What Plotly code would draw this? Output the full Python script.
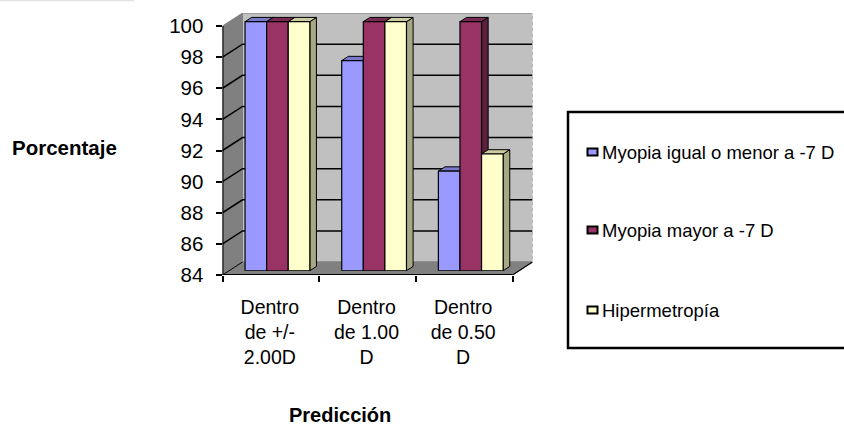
import plotly.graph_objects as go

categories = ["Dentro<br>de +/-<br>2.00D", "Dentro<br>de 1.00<br>D", "Dentro<br>de 0.50<br>D"]
series_names = ["Myopia igual o menor a -7 D", "Myopia mayor a -7 D", "Hipermetropía"]
myopia_low = [100, 97.5, 90.4]
myopia_high = [100, 100, 100]
hyperopia = [100, 100, 91.5]
series_values = [myopia_low, myopia_high, hyperopia]
front_colors = ["#9999FF", "#993366", "#FFFFCC"]
side_colors = ["#5C5C99", "#5C1F3D", "#A8A884"]
top_colors = ["#7A7ACC", "#7A2952", "#CCCCA3"]
y_ticks = list(range(84, 101, 2))

W, H = 844, 428
AX_L, AX_R, AX_B, AX_T = 222.5, 512.5, 275.0, 26.0     # front plane of the axes, pixels
DEPTH_X, DEPTH_Y = 20.0, 13.0                          # full box depth, pixels
PX_PER_CAT = (AX_R - AX_L) / 3
PX_PER_UNIT = (AX_B - AX_T) / 16
X_MAX = 3 + DEPTH_X / PX_PER_CAT
Y_MAX = 100 + DEPTH_Y / PX_PER_UNIT
BOX_R, BOX_T = AX_R + DEPTH_X, AX_T - DEPTH_Y

GAP = 0.33
BAR_W = (1 - GAP) / 3
BAR_D0, BAR_D1 = 0.33, 0.66                            # bar depth span within the box


def dx(d):
    return d * DEPTH_X / PX_PER_CAT


def dy(d):
    return d * DEPTH_Y / PX_PER_UNIT


fig = go.Figure()


def poly(xs, ys, fill, line="#000000", width=1):
    fig.add_trace(go.Scatter(x=xs + xs[:1], y=ys + ys[:1], mode="lines", fill="toself",
                             fillcolor=fill, line=dict(color=line, width=width),
                             hoverinfo="skip", showlegend=False))


def seg(xs, ys, color="#000000", width=2, dash="solid"):
    fig.add_trace(go.Scatter(x=xs, y=ys, mode="lines",
                             line=dict(color=color, width=width, dash=dash),
                             hoverinfo="skip", showlegend=False))


# box walls
poly([dx(1), 3 + dx(1), 3 + dx(1), dx(1)], [84 + dy(1), 84 + dy(1), 100 + dy(1), 100 + dy(1)],
     "#C0C0C0", "#808080", 1)
poly([0, dx(1), dx(1), 0], [84, 84 + dy(1), 100 + dy(1), 100], "#808080", "#808080", 1)
poly([0, 3, 3 + dx(1), dx(1)], [84, 84, 84 + dy(1), 84 + dy(1)], "#808080", "#808080", 1)
seg([3 + dx(1), 3 + dx(1)], [84 + dy(1), 100 + dy(1)], "#FFFFFF", 1, "dot")

# gridlines across the side and back walls
for v in y_ticks[1:-1]:
    seg([0, dx(1), 3 + dx(1)], [v, v + dy(1), v + dy(1)], "#000000", 1.5)
seg([3, 3 + dx(1)], [84, 84 + dy(1)], "#000000", 1.2)
seg([0, dx(1)], [84, 84 + dy(1)], "#000000", 1)

# bar side and top faces, back to front by series
for s, vals in enumerate(series_values):
    for c, v in enumerate(vals):
        x0 = c + GAP / 2 + s * BAR_W + dx(BAR_D0)
        x1 = x0 + BAR_W
        v0 = v + dy(BAR_D0)
        b0 = 84 + dy(BAR_D0)
        t = dy(BAR_D1 - BAR_D0)
        r = dx(BAR_D1 - BAR_D0)
        poly([x1, x1 + r, x1 + r, x1], [b0, b0 + t, v0 + t, v0], side_colors[s])
        poly([x0, x1, x1 + r, x0 + r], [v0, v0, v0 + t, v0 + t], top_colors[s])

# axis lines
seg([0, 0], [84, 100], "#000000", 2)
seg([0, 3], [84, 84], "#000000", 2)

# bar front faces live on a plane shifted into the box
for s, vals in enumerate(series_values):
    fig.add_trace(go.Bar(x=[c + 0.5 for c in range(3)], y=[v - 84 for v in vals], base=84,
                         name=series_names[s], marker=dict(color=front_colors[s],
                         line=dict(color="#000000", width=1.2)),
                         xaxis="x2", yaxis="y2", showlegend=False))

# legend drawn as swatches and text in paper-pixel coordinates
shapes = [dict(type="rect", xref="paper", yref="paper", x0=568 / W, x1=1.01,
               y0=1 - 348 / H, y1=1 - 112 / H, line=dict(color="#000000", width=2.5),
               fillcolor="#FFFFFF")]
legend_y = [152, 230, 310]
annotations = []
for name, col, ly in zip(series_names, front_colors, legend_y):
    shapes.append(dict(type="rect", xref="paper", yref="paper", x0=587.5 / W, x1=597.5 / W,
                       y0=1 - (ly + 3.5) / H, y1=1 - (ly - 3.5) / H, fillcolor=col,
                       line=dict(color="#000000", width=2)))
    annotations.append(dict(xref="paper", yref="paper", x=600 / W, y=1 - ly / H, text=name,
                            showarrow=False, xanchor="left", yanchor="middle",
                            font=dict(size=18.5, color="#000000")))
annotations += [
    dict(xref="paper", yref="paper", x=64.5 / W, y=1 - 148 / H, text="<b>Porcentaje</b>",
         showarrow=False, xanchor="center", yanchor="middle",
         font=dict(size=20.5, color="#000000")),
    dict(xref="paper", yref="paper", x=340 / W, y=1 - 414.5 / H, text="<b>Predicción</b>",
         showarrow=False, xanchor="center", yanchor="middle", borderpad=0,
         font=dict(size=20, color="#000000")),
]
shapes.append(dict(type="line", xref="paper", yref="paper", x0=0, x1=134 / W, y0=1 - 0.5 / H,
                   y1=1 - 0.5 / H, line=dict(color="#E4E4E4", width=1.5)))

fig.update_layout(
    width=W, height=H, margin=dict(l=0, r=0, t=0, b=0), autosize=False,
    paper_bgcolor="#FFFFFF", plot_bgcolor="rgba(0,0,0,0)", barmode="group", bargap=GAP,
    bargroupgap=0, font=dict(family="Liberation Sans", color="#000000"),
    shapes=shapes, annotations=annotations, showlegend=False,
    xaxis=dict(domain=[AX_L / W, BOX_R / W], range=[0, X_MAX], showgrid=False, zeroline=False,
               automargin=False, showline=False, tickvals=[0.5, 1.5, 2.5], ticktext=categories,
               ticks="", tickfont=dict(size=19.5), ticklabelstandoff=18, ticklabelshift=-1,
               minor=dict(tickvals=[0, 1, 2, 3], ticks="outside", ticklen=6, tickwidth=2,
                          tickcolor="#000000", showgrid=False)),
    yaxis=dict(domain=[1 - AX_B / H, 1 - BOX_T / H], range=[84, Y_MAX], showgrid=False,
               automargin=False, zeroline=False, showline=False, tickvals=y_ticks,
               ticks="outside", ticklen=6, tickwidth=2, tickcolor="#000000",
               tickfont=dict(size=20.5), ticklabelstandoff=8),
    xaxis2=dict(domain=[(AX_L + DEPTH_X * BAR_D0) / W, (BOX_R + DEPTH_X * BAR_D0) / W],
                range=[0, X_MAX], visible=False, anchor="y2", automargin=False),
    yaxis2=dict(domain=[1 - (AX_B - DEPTH_Y * BAR_D0) / H, 1 - (BOX_T - DEPTH_Y * BAR_D0) / H],
                range=[84, Y_MAX], visible=False, anchor="x2", automargin=False),
)

fig.write_html("out.html")
